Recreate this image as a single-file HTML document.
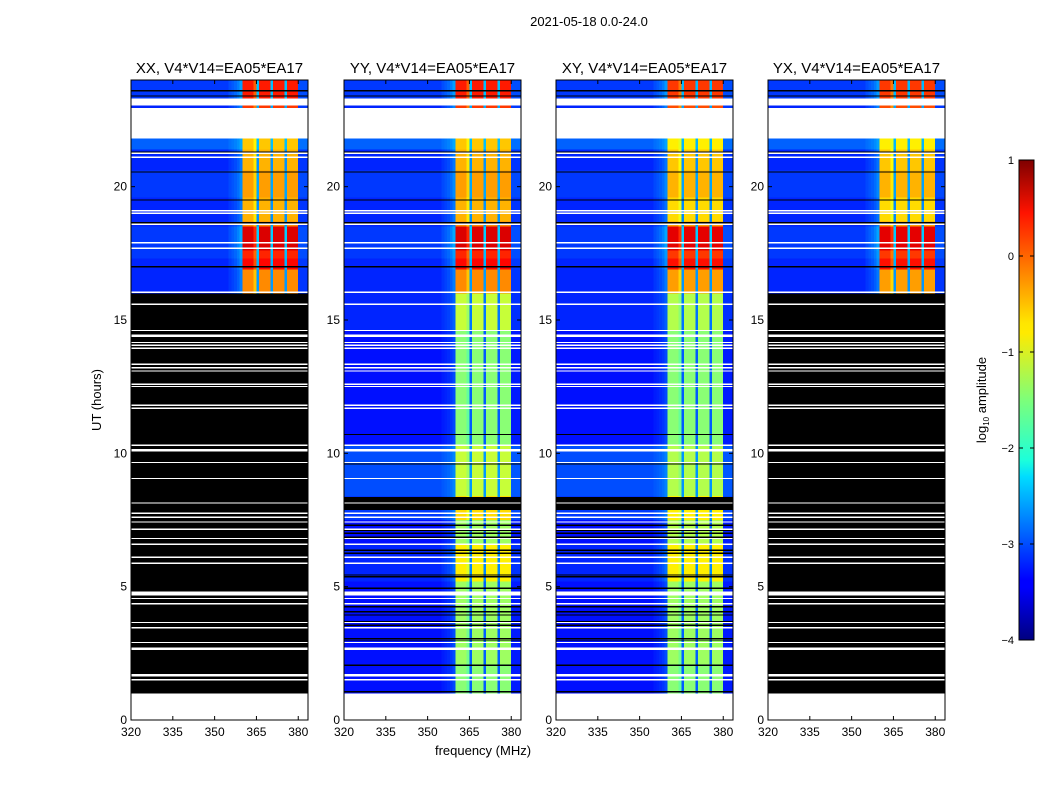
<!DOCTYPE html>
<html><head><meta charset="utf-8"><style>
body{margin:0;background:#fff;width:1050px;height:800px;overflow:hidden;font-family:"Liberation Sans",sans-serif}
svg text{font-family:"Liberation Sans",sans-serif}
</style></head><body>
<svg id="fig" width="1050" height="800">
<defs><linearGradient id="jet" x1="0" y1="1" x2="0" y2="0">
<stop offset="0" stop-color="#00007f"/><stop offset="0.11" stop-color="#0000ff"/><stop offset="0.125" stop-color="#0000ff"/><stop offset="0.34" stop-color="#00dcff"/><stop offset="0.375" stop-color="#1dffda"/><stop offset="0.5" stop-color="#7dff7a"/><stop offset="0.64" stop-color="#ffea00"/><stop offset="0.66" stop-color="#ffe600"/><stop offset="0.89" stop-color="#ff1300"/><stop offset="1" stop-color="#7f0000"/>
</linearGradient></defs>
<text x="589" y="26" font-size="13" text-anchor="middle">2021-05-18 0.0-24.0</text>
<text x="483" y="755" font-size="13" text-anchor="middle">frequency (MHz)</text>
<text x="0" y="0" font-size="13" text-anchor="middle" transform="translate(101,400) rotate(-90)">UT (hours)</text>
<g id="panels"></g>
<g>
<rect x="1019" y="160" width="15" height="480" fill="url(#jet)" stroke="#000" stroke-width="1"/>
<g id="cbticks"></g>
<text x="0" y="0" font-size="13" text-anchor="middle" transform="translate(986,400) rotate(-90)">log<tspan font-size="8" dy="3">10</tspan><tspan dy="-3"> amplitude</tspan></text>
</g>
</svg>
<script>
// ---- data ----
const panelTitles=["XX, V4*V14=EA05*EA17","YY, V4*V14=EA05*EA17","XY, V4*V14=EA05*EA17","YX, V4*V14=EA05*EA17"];
const xTicks=[320,335,350,365,380];
const yTicks=[0,5,10,15,20];
const cbTicks=[1,0,-1,-2,-3,-4];
const cbTickLabels=["1","0","\u22121","\u22122","\u22123","\u22124"];
// frequency profile per 1 MHz bin from 320 to 384 (0=background,1=band)
const freqProfile=[0,0,0,0,0,0,0,0,0,0,0,0,0,0,0,0,0,0,0,0,0,0,0,0,0,0,0,0,0,0,0,0,0,0,0,0.03,0.05,0.07,0.1,0.15,
 1,1,1,1,0.9,0.2,1,1,1,1,0.2,1,1,1,1,0.2,1,1,1,1,0.03,0.03,0.03,0.03];
// segments [t0,t1,background,band]
const upperXX=[[16,16.9,-3.2,-0.3],[16.9,17.3,-3.2,0.35],[17.3,17.6,-3.1,0.2],[17.6,18.5,-3.1,0.55],[18.5,18.7,-3.2,-0.3],[18.7,19.6,-3.2,-0.5],[19.6,20.6,-3.1,-0.4],[20.6,21.4,-3.2,-0.5],[21.4,21.8,-2.9,-0.6],[22.95,23.05,-3.2,0.1],[23.3,24,-3.1,0.25]];
const upperYX=[[16,16.9,-3.2,-0.4],[16.9,17.3,-3.2,0.3],[17.3,17.6,-3.1,0.1],[17.6,18.5,-3.1,0.5],[18.5,18.7,-3.2,-0.4],[18.7,19.6,-3.2,-0.7],[19.6,20.6,-3.1,-0.5],[20.6,21.4,-3.2,-0.6],[21.4,21.8,-2.9,-0.8],[22.95,23.05,-3.2,0.0],[23.3,24,-3.1,0.1]];
const lowerYY=[[0,0.06,-3.2,-3.2],[1,2.1,-3.3,-1.45],[2.1,5.2,-3.3,-1.35],[5.2,6.6,-3.2,-0.8],[6.6,7.5,-3.3,-1.35],[7.5,8.4,-3.1,-0.7],[8.4,10.3,-3.0,-1.15],[10.3,14.6,-3.3,-1.45],[14.6,16,-3.2,-1.15]];
const lowerXY=[[0,0.06,-3.2,-3.2],[1,2.1,-3.3,-1.45],[2.1,5.2,-3.3,-1.35],[5.2,6.6,-3.2,-0.8],[6.6,7.5,-3.3,-1.25],[7.5,8.4,-3.1,-0.8],[8.4,10.3,-3.0,-1.25],[10.3,14.6,-3.3,-1.45],[14.6,16,-3.2,-1.25]];
const blackBlocksXX=[[1,16]];
const blackBlocksYY=[[7.87,8.37]];
const whiteLines=[15.59,14.61,14.44,14.40,14.16,14.06,13.94,13.35,13.22,13.09,12.59,12.51,11.8,11.7,10.3,10.14,10.10,9.66,9.06,8.14,7.76,7.6,7.43,7.15,6.81,6.6,6.1,5.88,4.8,4.75,4.70,4.56,4.37,3.66,3.47,2.91,2.69,2.65,1.71,1.67,1.52,16.05,17.7,17.9,18.6,19.0,19.1,21.1,21.25];
const blackLinesData=[10.71,9.6,7.75,7.31,7.12,7.0,6.85,6.37,6.25,5.44,5.37,4.94,4.25,4.06,3.94,3.69,3.56,3.06,3.0,2.06,1.06,17.0,18.65,19.5,20.55,21.3,23.4,23.6];
const whiteBlocks=[[0,1],[21.8,22.95],[23.05,23.3]];
const panelSegs=[upperXX,lowerYY.concat(upperXX),lowerXY.concat(upperYX),upperYX];
const panelBlack=[blackBlocksXX,blackBlocksYY,blackBlocksYY,blackBlocksXX];
const panelLeft=[131,344,556,768];

// ---- helpers ----
const NS="http://www.w3.org/2000/svg";
const PW=177,TOP=80,BOT=720,FMIN=320,FMAX=383.5;
function jet(v){let n=(v+4)/5;n=Math.max(0,Math.min(1,n));
 const c=x=>Math.round(255*Math.max(0,Math.min(1,x)));
 return `rgb(${c(1.5-Math.abs(4*n-3))},${c(1.5-Math.abs(4*n-2))},${c(1.5-Math.abs(4*n-1))})`;}
function mk(tag,at,parent){const e=document.createElementNS(NS,tag);for(const k in at)e.setAttribute(k,at[k]);parent.appendChild(e);return e;}
const yS=t=>BOT-(t/24)*(BOT-TOP);
const cbY=v=>640-(v+4)*96;
const root=document.getElementById('panels');

panelTitles.forEach((title,p)=>{
 const L=panelLeft[p];const xS=f=>L+(f-FMIN)/(FMAX-FMIN)*PW;
 const g=mk('g',{},root);
 
 
 const hm=mk('g',{'shape-rendering':'crispEdges'},g);
 
 
 panelSegs[p].forEach(s=>{
  freqProfile.forEach((pr,i)=>{
   const f0=FMIN+i,f1=Math.min(FMIN+i+1,FMAX);if(f0>=FMAX)return;
   const v=s[2]+(s[3]-s[2])*pr;
   const r=mk('rect',{x:xS(f0),y:yS(s[1]),width:xS(f1)-xS(f0)+0.3,height:Math.max(1,yS(s[0])-yS(s[1])),fill:jet(v)},hm);
   
   
  });
 });
 panelBlack[p].forEach(b=>{const r=mk('rect',{x:L,y:yS(b[1]),width:PW,height:yS(b[0])-yS(b[1]),fill:'#000'},hm);
  });
 blackLinesData.forEach(t=>{const r=mk('rect',{x:L,y:yS(t)-0.6,width:PW,height:1.3,fill:'#000'},hm);
  });
 whiteLines.forEach(t=>{const r=mk('rect',{x:L,y:yS(t)-0.6,width:PW,height:1.4,fill:'#fff'},hm);
  });
 whiteBlocks.forEach(b=>{const r=mk('rect',{x:L,y:yS(b[1]),width:PW,height:yS(b[0])-yS(b[1]),fill:'#fff'},hm);
  });
 const fr=mk('rect',{x:L,y:TOP,width:PW,height:BOT-TOP,fill:'none',stroke:'#000','stroke-width':1},g);
 
 const tt=mk('text',{x:L+PW/2,y:73,'font-size':15,'text-anchor':'middle'},g);tt.textContent=title;
 
 xTicks.forEach(f=>{const x=xS(f);
  mk('line',{x1:x,x2:x,y1:BOT,y2:BOT-4,stroke:'#000'},g);mk('line',{x1:x,x2:x,y1:TOP,y2:TOP+4,stroke:'#000'},g);
  const t=mk('text',{x:x,y:BOT+16,'font-size':12,'text-anchor':'middle'},g);t.textContent=f;
  });
 yTicks.forEach(v=>{const y=yS(v);
  mk('line',{x1:L,x2:L+4,y1:y,y2:y,stroke:'#000'},g);mk('line',{x1:L+PW,x2:L+PW-4,y1:y,y2:y,stroke:'#000'},g);
  const t=mk('text',{x:L-4,y:y+4,'font-size':12,'text-anchor':'end'},g);t.textContent=v;
  });
});
const cb=document.getElementById('cbticks');
cbTicks.forEach((v,i)=>{const y=cbY(v);
 mk('line',{x1:1019,x2:1023,y1:y,y2:y,stroke:'#000'},cb);mk('line',{x1:1034,x2:1030,y1:y,y2:y,stroke:'#000'},cb);
 const t=mk('text',{x:1014,y:y+4,'font-size':11,'text-anchor':'end'},cb);t.textContent=cbTickLabels[i];
 });
</script>
</body></html>
